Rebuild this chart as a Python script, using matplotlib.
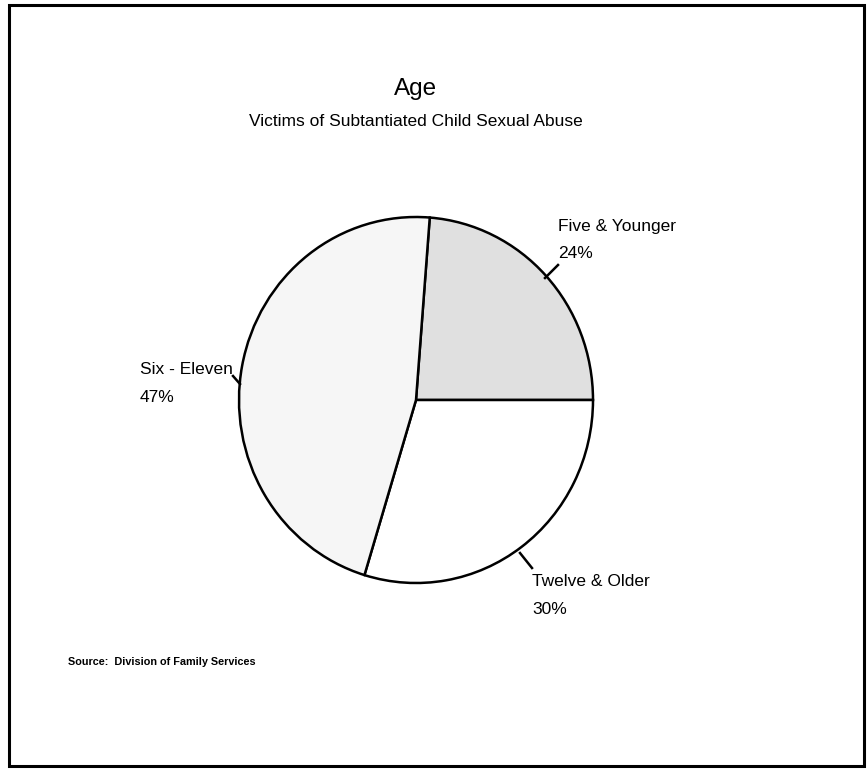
import numpy as np
import matplotlib.pyplot as plt
from matplotlib.patches import Rectangle

labels = ['Five & Younger', 'Twelve & Older', 'Six - Eleven']
values = [24, 30, 47]
face_colors = ['#e0e0e0', 'white', '#f6f6f6']

fig = plt.figure(figsize=(8.67, 7.7), dpi=100)
W, H = 867, 770
FONT = 'Liberation Sans'

# outer frame
fig.patches.append(Rectangle((9 / W, 4 / H), 855 / W, 761 / H, transform=fig.transFigure,
                             fill=False, edgecolor='black', linewidth=2.2))

fig.text(416 / W, 1 - 89 / H, 'Age', ha='center', va='center', fontsize=17.5, family=FONT)
fig.text(416 / W, 1 - 121 / H, 'Victims of Subtantiated Child Sexual Abuse', ha='center',
         va='center', fontsize=12.5, family=FONT)
fig.text(68 / W, 1 - 662 / H, 'Source:  Division of Family Services', ha='left',
         va='center', fontsize=7.8, fontweight='bold', family=FONT)

# pie axes: centre (416, 400), slightly taller than wide like the scan
cx, cy, rx, ry = 416, 400, 177, 183
ax = fig.add_axes([(cx - rx) / W, 1 - (cy + ry) / H, 2 * rx / W, 2 * ry / H])
start = 360 * values[0] / sum(values)
ax.pie(values, colors=face_colors, startangle=start, counterclock=False,
       wedgeprops=dict(edgecolor='black', linewidth=1.8))
ax.set_xlim(-1, 1)
ax.set_ylim(-1, 1)
ax.set_aspect('auto')
ax.axis('off')


def px(x, y):
    return ((x - cx) / rx, (cy - y) / ry)


# label text left x, label y, leader start, leader end (pixels)
label_pos = {
    'Five & Younger': (558, 227, (558, 265), (545, 278)),
    'Twelve & Older': (532, 582, (532, 568), (520, 553)),
    'Six - Eleven': (140, 370, (233, 376), (240, 384)),
}
for lab, val in zip(labels, values):
    x, y, p0, p1 = label_pos[lab]
    ax.text(*px(x, y), lab, ha='left', va='center', fontsize=12.5, family=FONT)
    ax.text(*px(x, y + 27), f'{val}%', ha='left', va='center', fontsize=12.5, family=FONT)
    a, b = px(*p0), px(*p1)
    ax.plot([a[0], b[0]], [a[1], b[1]], color='black', linewidth=1.8, clip_on=False)

fig.savefig('out.png', dpi=100)
